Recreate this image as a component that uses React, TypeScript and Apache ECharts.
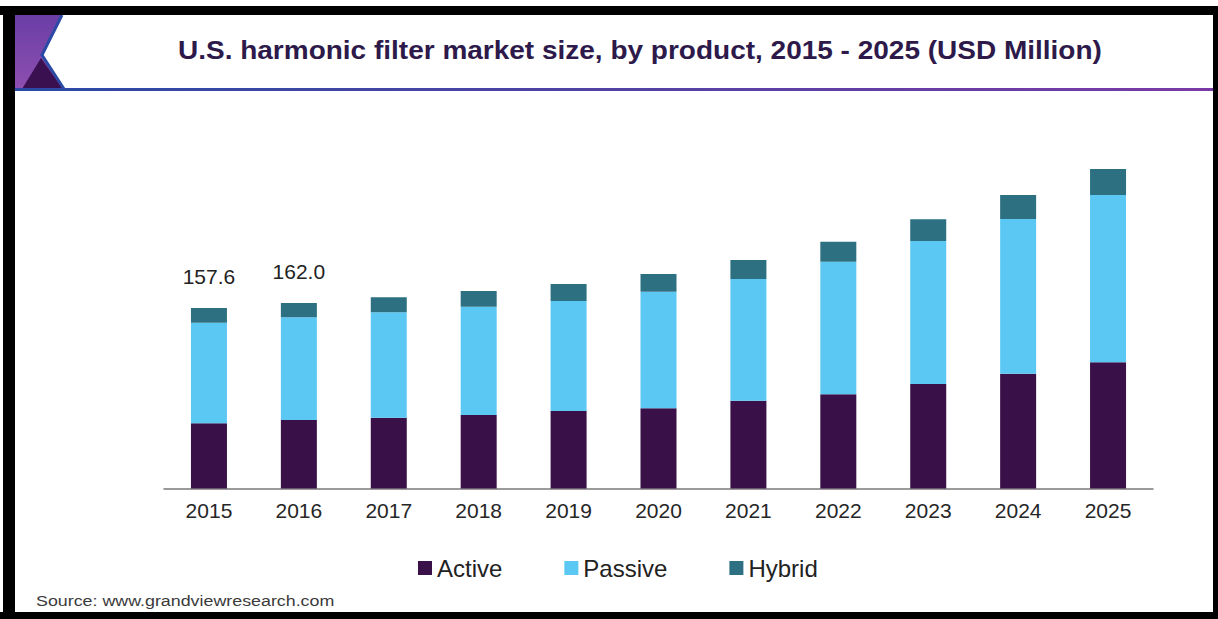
import React, { useEffect, useRef } from "react";
import * as echarts from "echarts";

const years = ["2015", "2016", "2017", "2018", "2019", "2020", "2021", "2022", "2023", "2024", "2025"];
const active = [56.9, 59.8, 61.8, 64.2, 67.7, 70.1, 76.7, 82.3, 91.3, 100.3, 110.2];
const passive = [87.9, 89.7, 92.1, 94.6, 96.1, 101.7, 106.3, 115.8, 124.9, 135.1, 146.1];
const hybrid = [12.8, 12.5, 13.1, 13.7, 14.8, 15.5, 16.6, 17.4, 18.9, 20.9, 22.7];
const labeledYears = ["2015", "2016"];

const titleText = "U.S. harmonic filter market size, by product, 2015 - 2025 (USD Million)";
const sourceText = "Source: www.grandviewresearch.com";

const FONT = "'Liberation Sans', Arial, Helvetica, sans-serif";

export default function App() {
  const ref = useRef<HTMLDivElement>(null);

  useEffect(() => {
    if (!ref.current) return;
    const chart = echarts.init(ref.current, undefined, { renderer: "svg" });
    const option: any = {
      animation: false,
      backgroundColor: "#ffffff",
      textStyle: { fontFamily: FONT },
      grid: { left: 164, width: 989, top: 145, bottom: 130.5, containLabel: false },
      xAxis: {
        type: "category",
        data: years,
        axisLine: { show: true, lineStyle: { color: "#7a7a7a", width: 1.5 } },
        axisTick: { show: false },
        axisLabel: { fontSize: 21, color: "#262626", margin: 11, fontFamily: FONT },
      },
      yAxis: {
        type: "value",
        min: 0,
        max: 300,
        show: false,
        splitLine: { show: false },
      },
      legend: {
        left: 413,
        top: 551,
        itemWidth: 14,
        itemHeight: 14,
        itemGap: 62,
        icon: "rect",
        data: ["Active", "Passive", "Hybrid"],
        textStyle: { fontSize: 24, color: "#222222", fontFamily: FONT },
      },
      series: [
        {
          name: "Active",
          type: "bar",
          stack: "total",
          barWidth: 36,
          data: active,
          itemStyle: { color: "#3a1048" },
        },
        {
          name: "Passive",
          type: "bar",
          stack: "total",
          barWidth: 36,
          data: passive,
          itemStyle: { color: "#5bc8f4" },
        },
        {
          name: "Hybrid",
          type: "bar",
          stack: "total",
          barWidth: 36,
          data: hybrid.map((v, i) => ({
            value: v,
            label: { show: labeledYears.includes(years[i]) },
          })),
          itemStyle: { color: "#2c7082" },
          label: {
            show: false,
            position: "top",
            distance: 21,
            fontSize: 21,
            color: "#222222",
            fontFamily: FONT,
            formatter: (p: any) =>
              (active[p.dataIndex] + passive[p.dataIndex] + hybrid[p.dataIndex]).toFixed(1),
          },
        },
      ],
      graphic: [
        // frame
        { type: "rect", shape: { x: 0, y: 6, width: 1218, height: 9 }, style: { fill: "#000" }, z: 100 },
        { type: "rect", shape: { x: 3, y: 6, width: 12, height: 613 }, style: { fill: "#000" }, z: 100 },
        { type: "rect", shape: { x: 1213, y: 6, width: 5, height: 613 }, style: { fill: "#000" }, z: 100 },
        { type: "rect", shape: { x: 0, y: 612, width: 1218, height: 7 }, style: { fill: "#000" }, z: 100 },
        // header decoration
        {
          type: "polygon",
          shape: { points: [[15, 15], [61, 15], [41, 55], [63, 89], [15, 89]] },
          style: {
            fill: new echarts.graphic.LinearGradient(0, 0, 0, 1, [
              { offset: 0, color: "#6a3ea6" },
              { offset: 1, color: "#8e4fb0" },
            ]),
          },
          z: 90,
        },
        {
          type: "polygon",
          shape: { points: [[22, 89], [41, 58], [63, 89]] },
          style: { fill: "#3b1050" },
          z: 91,
        },
        {
          type: "polyline",
          shape: { points: [[62, 15], [42, 55], [64, 89]] },
          style: { stroke: "#2a4aa5", lineWidth: 3, fill: null },
          z: 92,
        },
        {
          type: "rect",
          shape: { x: 15, y: 88, width: 1198, height: 3 },
          style: {
            fill: new echarts.graphic.LinearGradient(0, 0, 1, 0, [
              { offset: 0, color: "#2a4aa5" },
              { offset: 1, color: "#7a3aa5" },
            ]),
          },
          z: 92,
        },
        {
          type: "text",
          x: 178,
          y: 51,
          scaleX: 1.12,
          style: {
            text: titleText,
            fontSize: 25,
            fontWeight: "bold",
            fontFamily: FONT,
            fill: "#2d1a4a",
            align: "left",
            verticalAlign: "middle",
            textAlign: "left",
            textVerticalAlign: "middle",
          },
          z: 93,
        },
        {
          type: "text",
          x: 36,
          y: 601,
          scaleX: 1.19,
          style: {
            text: sourceText,
            fontSize: 15,
            fontFamily: FONT,
            fill: "#3a3a3a",
            align: "left",
            verticalAlign: "middle",
            textAlign: "left",
            textVerticalAlign: "middle",
          },
          z: 93,
        },
      ],
    };
    chart.setOption(option);
    return () => chart.dispose();
  }, []);

  return (
    <div
      ref={ref}
      style={{ position: "absolute", left: 0, top: 0, width: 1218, height: 619, background: "#fff" }}
    />
  );
}
